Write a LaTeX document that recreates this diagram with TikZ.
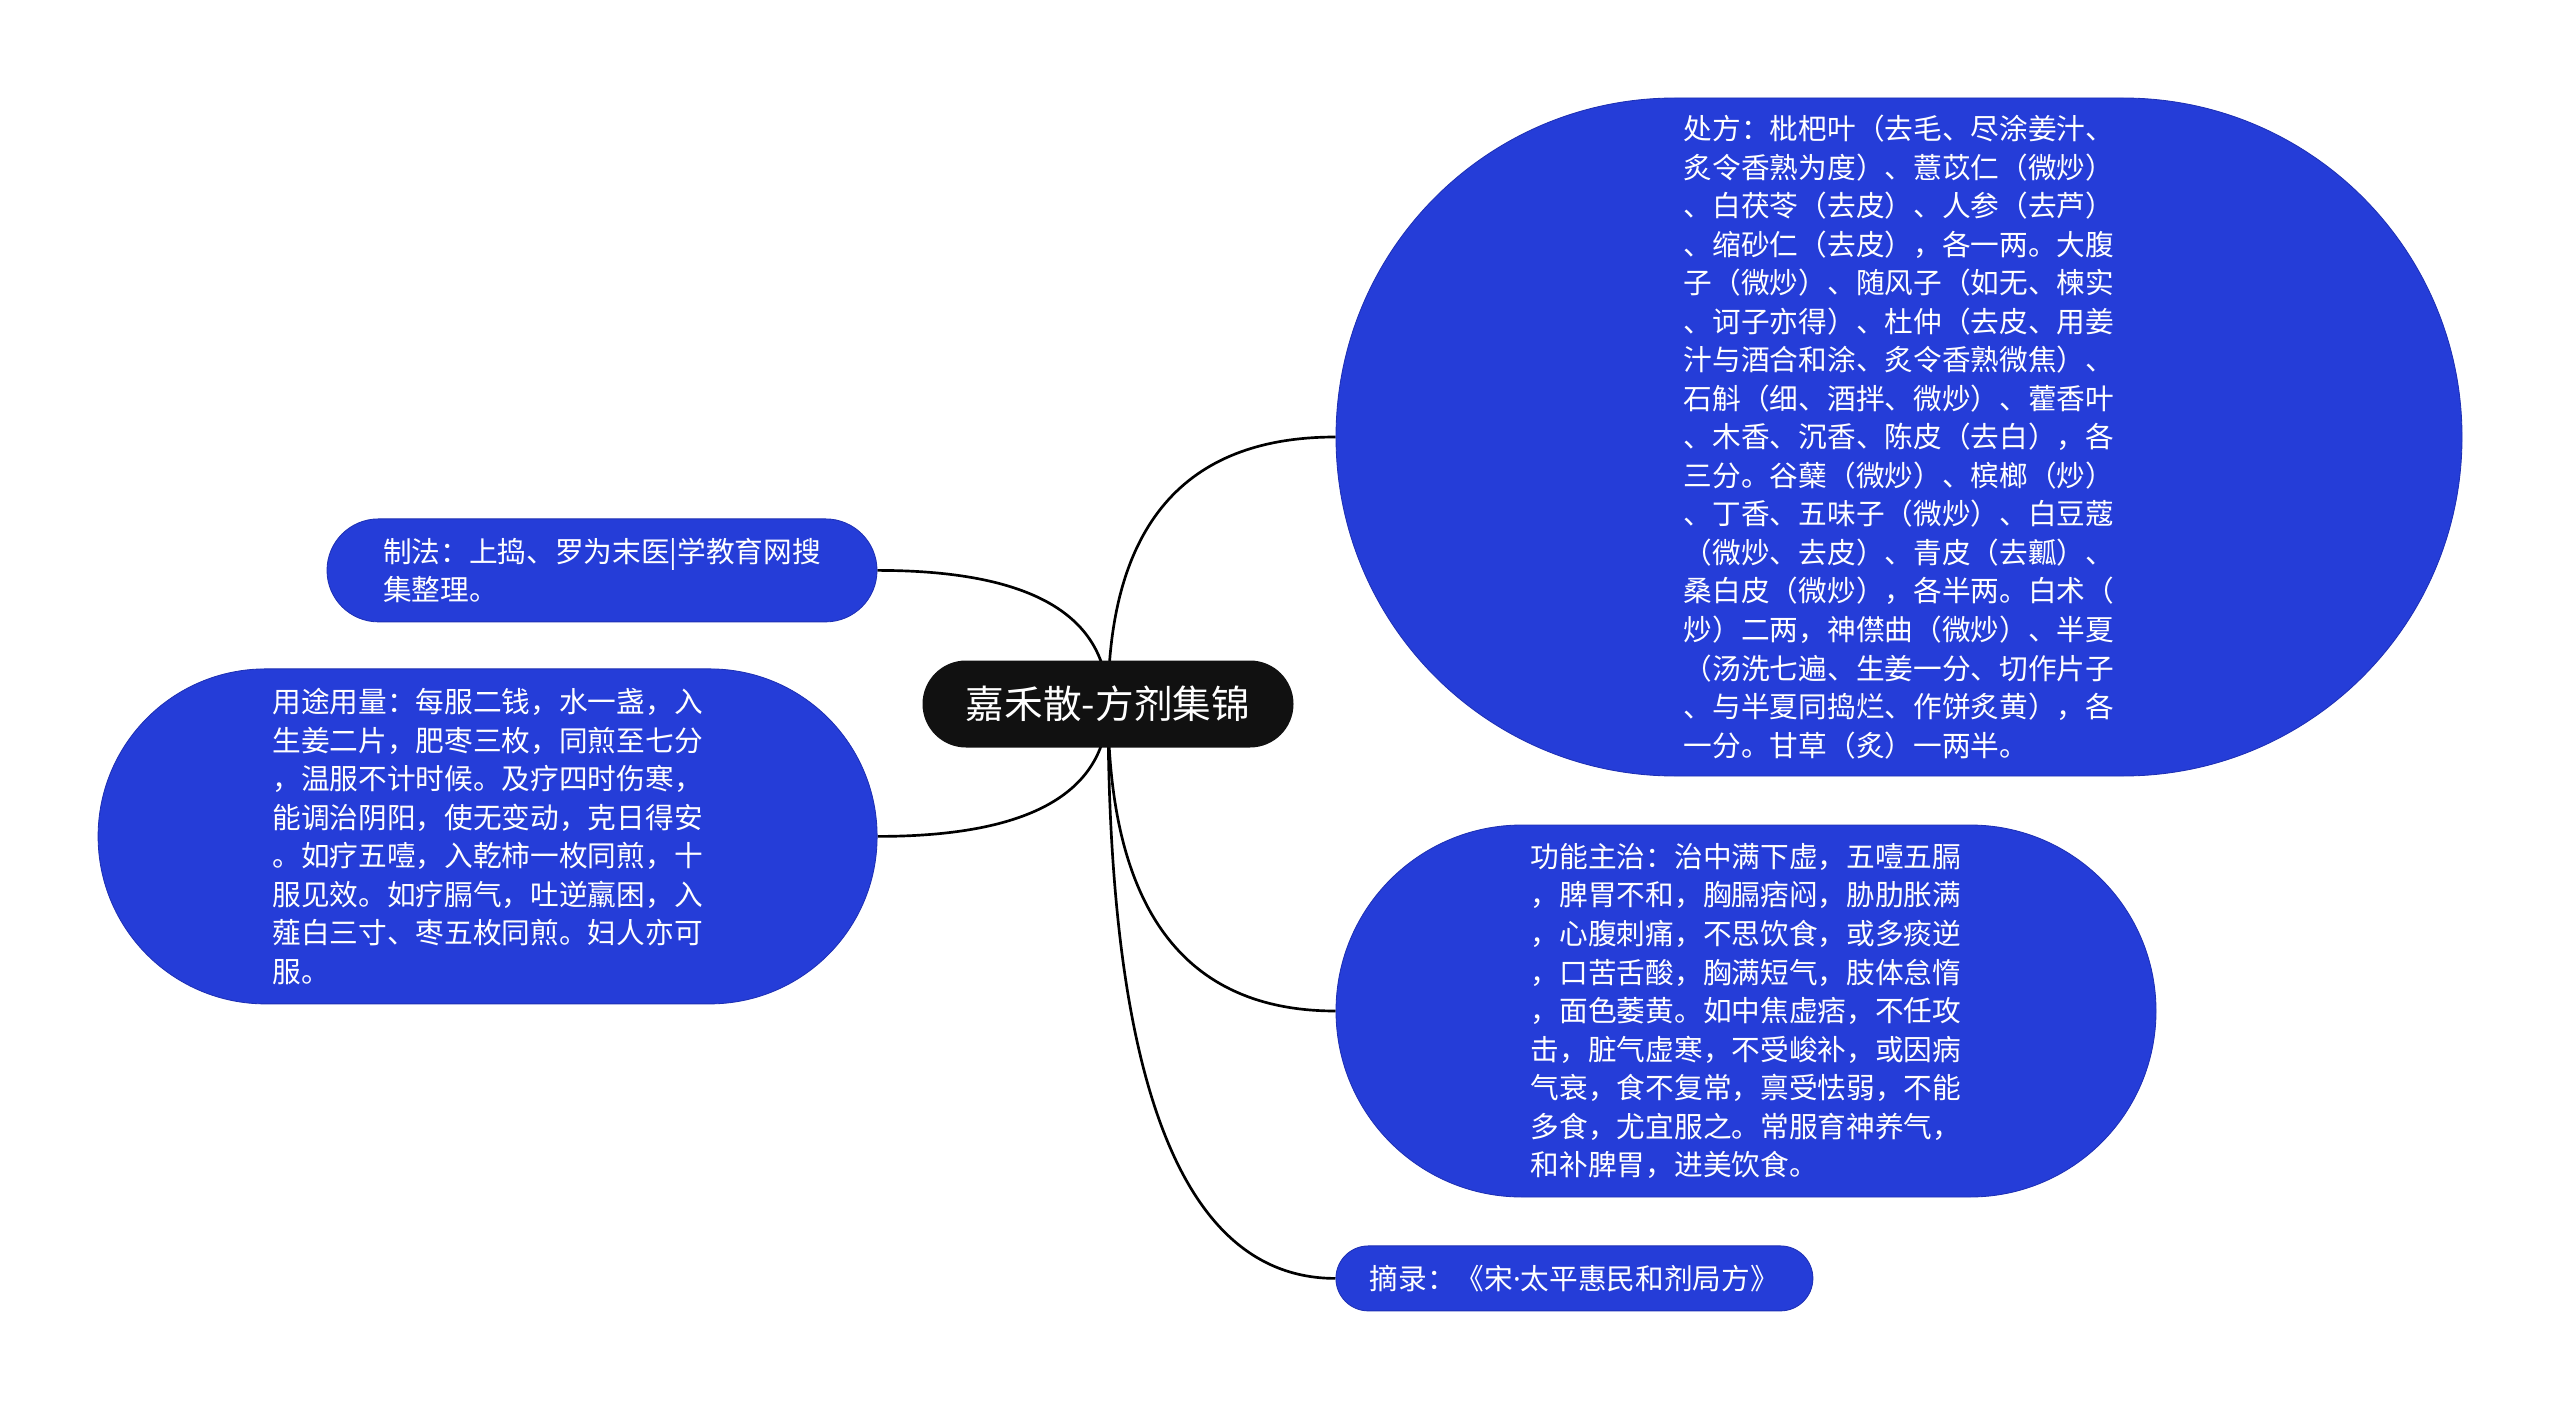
\documentclass[tikz,border=0pt]{standalone}
\usepackage{fontspec}
\setmainfont{Noto Sans CJK SC}
\newfontfamily\latinfont{Noto Sans}
\usetikzlibrary{shapes.misc,backgrounds,calc}
\definecolor{pillblue}{RGB}{37,61,216}
\definecolor{pillline}{RGB}{30,48,180}
\definecolor{topicblack}{RGB}{17,17,17}

\begin{document}
\begin{tikzpicture}[
  topic/.style={rounded rectangle, fill=topicblack, text=white, inner sep=0pt,
    font=\fontsize{27.5}{33}\selectfont},
  leaf/.style={rounded rectangle, fill=pillblue, draw=pillline, line width=0.6pt,
    text=white, inner sep=0pt, align=left, font=\fontsize{20.4}{27.4}\selectfont},
  branch/.style={line width=1.9pt, black}
]
\useasboundingbox (0,0) rectangle (64,-35.225);

\node (root) at (27.7,-17.6) [topic, minimum width=9.275cm, minimum height=2.175cm] {嘉禾散-方剂集锦};

\node (zhifa) at (15.05,-14.26) [leaf, minimum width=13.75cm, minimum height=2.575cm]
  {制法：上捣、罗为末医|学教育网搜\\集整理。};

\node (yongtu) at (12.19,-20.91) [leaf, minimum width=19.475cm, minimum height=8.375cm]
  {用途用量：每服二钱，水一盏，入\\生姜二片，肥枣三枚，同煎至七分\\，温服不计时候。及疗四时伤寒，\\能调治阴阳，使无变动，克日得安\\。如疗五噎，入乾柿一枚同煎，十\\服见效。如疗膈气，吐逆羸困，入\\薤白三寸、枣五枚同煎。妇人亦可\\服。};

\node (chufang) at (47.475,-10.925) [leaf, minimum width=28.15cm, minimum height=16.95cm]
  {处方：枇杷叶（去毛、尽涂姜汁、\\炙令香熟为度）、薏苡仁（微炒）\\、白茯苓（去皮）、人参（去芦）\\、缩砂仁（去皮），各一两。大腹\\子（微炒）、随风子（如无、楝实\\、诃子亦得）、杜仲（去皮、用姜\\汁与酒合和涂、炙令香熟微焦）、\\石斛（细、酒拌、微炒）、藿香叶\\、木香、沉香、陈皮（去白），各\\三分。谷蘖（微炒）、槟榔（炒）\\、丁香、五味子（微炒）、白豆蔻\\（微炒、去皮）、青皮（去瓤）、\\桑白皮（微炒），各半两。白术（\\炒）二两，神僸曲（微炒）、半夏\\（汤洗七遍、生姜一分、切作片子\\、与半夏同捣烂、作饼炙黄），各\\一分。甘草（炙）一两半。};

\node (gongneng) at (43.65,-25.275) [leaf, minimum width=20.5cm, minimum height=9.3cm]
  {功能主治：治中满下虚，五噎五膈\\，脾胃不和，胸膈痞闷，胁肋胀满\\，心腹刺痛，不思饮食，或多痰逆\\，口苦舌酸，胸满短气，肢体怠惰\\，面色萎黄。如中焦虚痞，不任攻\\击，脏气虚寒，不受峻补，或因病\\气衰，食不复常，禀受怯弱，不能\\多食，尤宜服之。常服育神养气，\\和补脾胃，进美饮食。};

\node (zhailu) at (39.36,-31.96) [leaf, minimum width=11.925cm, minimum height=1.625cm]
  {摘录：《宋{\latinfont ·}太平惠民和剂局方》};

\begin{scope}[on background layer]
\foreach \leafname/\side in {zhifa/east, yongtu/east, chufang/west, gongneng/west, zhailu/west} {
  \coordinate (bend) at (root.center |- \leafname.\side);
  \draw[branch] (root.center) .. controls ($(root.center)!0.667!(bend)$) and ($(\leafname.\side)!0.667!(bend)$) .. (\leafname.\side);
}
\end{scope}
\end{tikzpicture}
\end{document}
